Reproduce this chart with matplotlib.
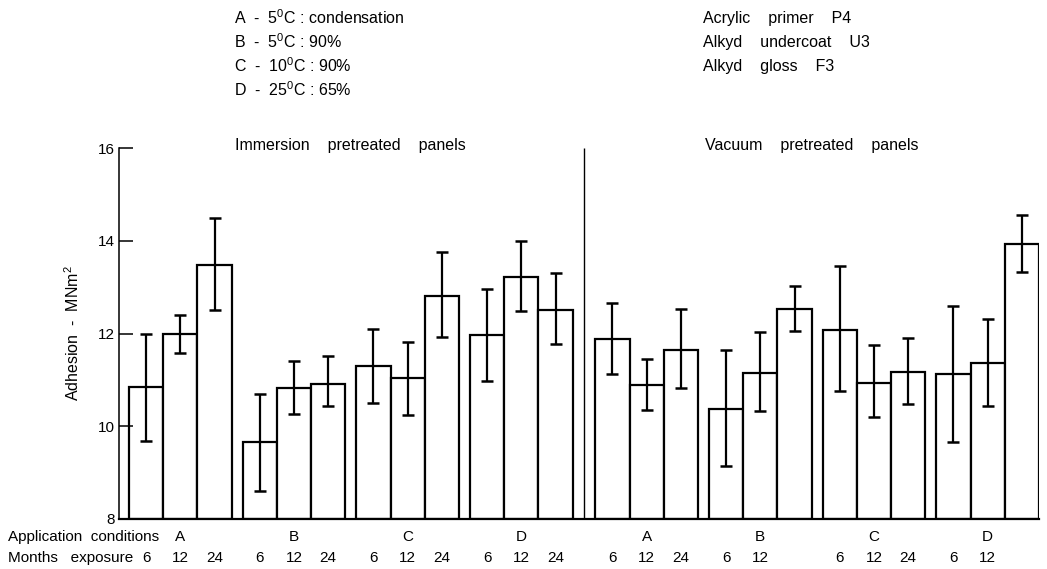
import numpy as np
import matplotlib.pyplot as plt
from matplotlib.transforms import blended_transform_factory

plt.rcParams['font.family'] = ['Liberation Sans', 'DejaVu Sans']
plt.rcParams['mathtext.fontset'] = 'custom'
plt.rcParams['mathtext.rm'] = 'Liberation Sans'
plt.rcParams['mathtext.it'] = 'Liberation Sans'

conditions = ['A', 'B', 'C', 'D']
months = ['6', '12', '24']

# immersion pretreated panels, A6 A12 A24 B6 ... D24
immersion_mean = [10.84, 12.00, 13.47, 9.67, 10.82, 10.92, 11.30, 11.03, 12.80, 11.97, 13.22, 12.50]
immersion_hi = [12.00, 12.40, 14.50, 10.69, 11.40, 11.51, 12.10, 11.81, 13.75, 12.96, 13.99, 13.31]
immersion_lo = [9.68, 11.58, 12.50, 8.61, 10.26, 10.44, 10.51, 10.24, 11.92, 10.97, 12.48, 11.77]

# vacuum pretreated panels
vacuum_mean = [11.88, 10.88, 11.65, 10.38, 11.15, 12.52, 12.08, 10.94, 11.18, 11.12, 11.36, 13.93]
vacuum_hi = [12.65, 11.46, 12.52, 11.64, 12.04, 13.02, 13.46, 11.76, 11.90, 12.60, 12.31, 14.56]
vacuum_lo = [11.12, 10.36, 10.82, 9.15, 10.32, 12.06, 10.75, 10.21, 10.47, 9.67, 10.44, 13.33]

# month labels as printed under the bars (some are missing in the original)
immersion_month_labels = months * 4
vacuum_month_labels = ['6', '12', '24', '6', '12', '', '6', '12', '24', '6', '12', '']

legend_left = ['A  -  5$^{\\mathrm{0}}$C : condensation',
               'B  -  5$^{\\mathrm{0}}$C : 90%',
               'C  -  10$^{\\mathrm{0}}$C : 90%',
               'D  -  25$^{\\mathrm{0}}$C : 65%']
legend_right = ['Acrylic    primer    P4',
                'Alkyd    undercoat    U3',
                'Alkyd    gloss    F3']

# layout of bar positions (in bar widths)
first = 0.29
gap = 0.32
panel_gap = 0.34
group_starts = [first + g * (3 + gap) + (panel_gap if g >= 4 else 0) for g in range(8)]
x = np.array([s + i for s in group_starts for i in range(3)])

mean = np.array(immersion_mean + vacuum_mean)
hi = np.array(immersion_hi + vacuum_hi)
lo = np.array(immersion_lo + vacuum_lo)
month_labels = immersion_month_labels + vacuum_month_labels

W, H = 1047, 569
fig = plt.figure(figsize=(W / 100, H / 100), dpi=100)
ax = fig.add_axes([119 / W, 1 - 519 / H, 920 / W, 371 / H])

ax.bar(x, mean - 8, bottom=8, width=1, align='edge', facecolor='white',
       edgecolor='black', linewidth=1.6)
ax.errorbar(x + 0.5, mean, yerr=[mean - lo, hi - mean], fmt='none', ecolor='black',
            elinewidth=1.6, capsize=4, capthick=1.8)

divider = (group_starts[3] + 3 + group_starts[4]) / 2
ax.vlines(divider, 8, 16, color='black', linewidth=1)

ax.set_xlim(0, group_starts[7] + 3.0)
ax.set_ylim(8, 16)
ax.set_yticks([8, 10, 12, 14, 16])
ax.set_xticks([])
ax.tick_params(axis='y', direction='in', length=10, width=1.1, pad=3, labelsize=11)
for s in ['top', 'right']:
    ax.spines[s].set_visible(False)
ax.spines['left'].set_linewidth(1.1)
ax.spines['bottom'].set_linewidth(1.6)
for sp in ax.spines.values():
    sp.set_clip_on(False)

ax.set_ylabel('Adhesion  -  MNm$^{\\mathrm{2}}$', fontsize=11.5)
ax.yaxis.set_label_coords(-37 / 920, 0.5)

imm_center = (group_starts[0] + group_starts[3] + 3) / 2
vac_center = (group_starts[4] + group_starts[7] + 3) / 2
ax.text(imm_center, 16.05, 'Immersion    pretreated    panels', ha='center', va='center', fontsize=11.5)
ax.text(vac_center - 0.15, 16.05, 'Vacuum    pretreated    panels', ha='center', va='center', fontsize=11.5)

trans = blended_transform_factory(ax.transData, ax.transAxes)
for g, s in enumerate(group_starts):
    ax.text(s + 1.5, -0.048, conditions[g % 4], transform=trans, ha='center', va='center', fontsize=11)
for xi, lab in zip(x, month_labels):
    ax.text(xi + 0.5, -0.105, lab, transform=trans, ha='center', va='center', fontsize=11)

fig.text(8 / W, 1 - 537 / H, 'Application  conditions', ha='left', va='center', fontsize=11)
fig.text(8 / W, 1 - 558 / H, 'Months   exposure', ha='left', va='center', fontsize=11)

for i, t in enumerate(legend_left):
    fig.text(234 / W, 1 - (18 + 24 * i) / H, t, ha='left', va='center', fontsize=11.5)
for i, t in enumerate(legend_right):
    fig.text(703 / W, 1 - (18 + 24 * i) / H, t, ha='left', va='center', fontsize=11.5)

fig.savefig('out.png', dpi=100)
